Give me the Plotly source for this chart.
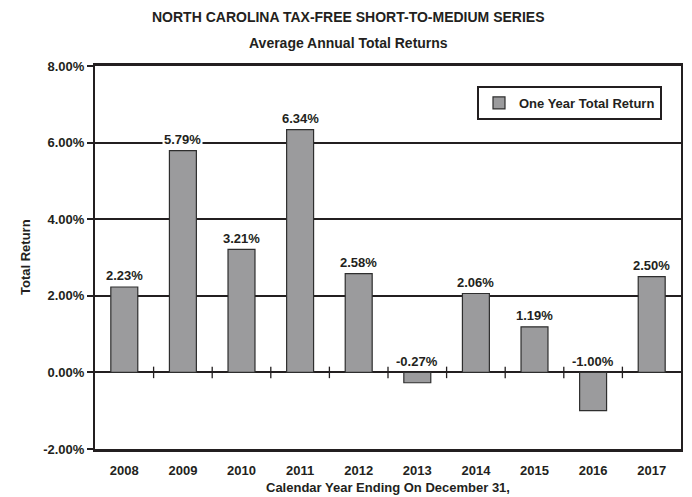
import plotly.graph_objects as go

years = ["2008", "2009", "2010", "2011", "2012", "2013", "2014", "2015", "2016", "2017"]
returns = [2.23, 5.79, 3.21, 6.34, 2.58, -0.27, 2.06, 1.19, -1.00, 2.50]
y_ticks = [-2, 0, 2, 4, 6, 8]

title = "NORTH CAROLINA TAX-FREE SHORT-TO-MEDIUM SERIES"
subtitle = "Average Annual Total Returns"
series_name = "One Year Total Return"
x_title = "Calendar Year Ending On December 31,"
y_title = "Total Return"

ink = "#231f20"
font_family = "Liberation Sans, Arial, sans-serif"

L, R, T, B = 95, 11, 66, 48
W, H = 692, 497
pw, ph = W - L - R, H - T - B

fig = go.Figure()
fig.add_trace(go.Bar(
    x=years, y=returns, name="<b>" + series_name + "</b>",
    marker=dict(color="#9b9b9d", line=dict(color="#2e2e2e", width=1.2)),
    width=0.46, hoverinfo="x+y",
))

shapes = []
for i in range(len(years) - 1):
    shapes.append(dict(type="line", xref="x", yref="y", x0=i + 0.5, x1=i + 0.5,
                       y0=-0.15, y1=0.15, line=dict(color=ink, width=1.3)))

cx = (W / 2 + 2 - L) / pw
annotations = [
    dict(text="<b>" + title + "</b>", xref="paper", yref="paper",
         x=cx, y=1 + (T - 17) / ph, showarrow=False,
         xanchor="center", yanchor="middle", font=dict(size=14, color=ink)),
    dict(text="<b>" + subtitle + "</b>", xref="paper", yref="paper",
         x=cx, y=1 + (T - 43) / ph, showarrow=False,
         xanchor="center", yanchor="middle", font=dict(size=14, color=ink)),
    dict(text="<b>" + x_title + "</b>", xref="paper", yref="paper",
         x=(388 - L) / pw, y=-(487 - (H - B)) / ph, showarrow=False,
         xanchor="center", yanchor="middle", font=dict(size=13, color=ink)),
    dict(text="<b>" + y_title + "</b>", xref="paper", yref="paper",
         x=-(L - 25) / pw, y=(449 - 257) / ph, showarrow=False, textangle=-90,
         xanchor="center", yanchor="middle", font=dict(size=13, color=ink)),
]
for i, v in enumerate(returns):
    annotations.append(dict(
        text=f"<b>{v:.2f}%</b>", xref="x", yref="y", x=i, y=max(v, 0),
        showarrow=False, xanchor="center", yanchor="middle", yshift=11,
        bgcolor="white", borderpad=1,
        font=dict(family=font_family, size=13, color=ink),
    ))

fig.update_layout(
    width=W, height=H,
    margin=dict(l=L, r=R, t=T, b=B),
    paper_bgcolor="white", plot_bgcolor="white",
    font=dict(family=font_family, size=13, color=ink),
    shapes=shapes,
    showlegend=True,
    legend=dict(x=(662 - L) / pw, xanchor="right", y=(449 - 103) / ph, yanchor="middle",
                bordercolor=ink, borderwidth=2, bgcolor="white",
                font=dict(family=font_family, size=13, color=ink),
                itemwidth=30, tracegroupgap=0),
    annotations=annotations,
)
fig.update_xaxes(
    type="category", range=[-0.5, len(years) - 0.5],
    showline=True, linecolor=ink, linewidth=2.5, mirror=True,
    ticks="", showgrid=False, automargin=False,
    tickvals=years, ticktext=[f"<b>{y}</b>" for y in years],
    tickfont=dict(family=font_family, size=13, color=ink),
    ticklabelstandoff=8,
)
fig.update_yaxes(
    range=[-2, 8], tickvals=y_ticks, automargin=False,
    ticktext=[f"<b>{v:.2f}%</b>" for v in y_ticks],
    showline=True, linecolor=ink, linewidth=2, mirror=True,
    ticks="outside", ticklen=6, tickcolor=ink, tickwidth=1.5,
    showgrid=True, gridcolor=ink, gridwidth=1.5,
    zeroline=True, zerolinecolor=ink, zerolinewidth=1.5,
    tickfont=dict(family=font_family, size=13, color=ink),
)

fig.write_html(
    "out.html",
    config={"displayModeBar": False},
    post_script="document.body.style.margin='0';document.body.style.overflow='hidden';",
)
